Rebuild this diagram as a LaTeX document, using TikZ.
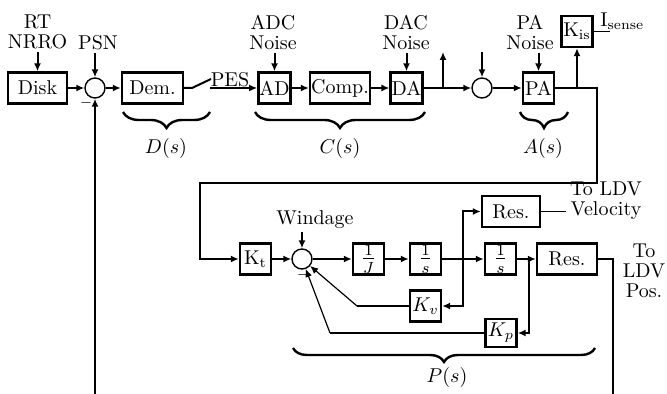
\documentclass[tikz,border=0pt]{standalone}
\usetikzlibrary{arrows.meta,decorations.pathreplacing}
\begin{document}
\begin{tikzpicture}[x=0.5pt,y=-0.5pt,
  every node/.style={font=\fontsize{10pt}{10pt}\selectfont},
  blk/.style={draw,line width=1.2pt,minimum width=15.5pt,minimum height=15.5pt,inner sep=0.5pt},
  fracblk/.style={blk,font=\fontsize{12pt}{12pt}\selectfont},
  sumj/.style={draw,circle,line width=0.7pt,minimum size=10pt,inner sep=0pt},
  lbl/.style={align=center,inner sep=1.5pt},
  minus/.style={font=\scriptsize,inner sep=0pt},
  sig/.style={line width=1pt,-{Latex[length=4pt,width=3.5pt]}},
  wire/.style={line width=1pt},
  thinsig/.style={line width=0.6pt,-{Latex[length=4pt,width=3.5pt]}},
  brc/.style={decorate,decoration={brace,amplitude=8pt},line width=1.2pt}]
\useasboundingbox (0,0) rectangle (667,394);
% Top row: disk, demodulator, controller, amplifier
\node[blk,minimum width=29.5pt] (disk) at (37.5,88) {Disk};
\node[sumj] (s1) at (95,88) {};
\node[minus] (m1) at (86,103) {$-$};
\node[blk,minimum width=30.5pt] (dem) at (152.5,88) {Dem.};
\node[blk] (AD) at (274.5,88) {AD};
\node[blk,minimum width=28pt] (comp) at (340,88) {Comp.};
\node[blk] (DA) at (406.5,88) {DA};
\node[sumj] (s2) at (482,88) {};
\node[blk] (PA) at (538.5,88) {PA};
\node[blk] (Kis) at (577,31.5) {K$_{\mathrm{is}}$};
% Disturbance and noise inputs
\node[lbl] (rt) at (37.5,32) {RT\\NRRO};
\node[lbl] (psn) at (98,42.5) {PSN};
\node[lbl] (adcn) at (273,32) {ADC\\Noise};
\node[lbl] (dacn) at (406,32) {DAC\\Noise};
\node[lbl] (pan) at (530,32) {PA\\Noise};
\draw[sig] (rt) -- (disk);
\draw[sig] (psn.south -| s1) -- (s1);
\draw[sig] (adcn.south -| AD) -- (AD);
\draw[sig] (dacn.south -| DA) -- (DA);
\draw[sig] (pan.south -| PA) -- (PA);
% Signal path
\draw[sig] (disk) -- (s1);
\draw[sig] (s1) -- (dem);
\coordinate (swa) at (192,88);
\coordinate (swb) at (211,79);
\coordinate (pesin) at (210,88);
\draw[wire] (dem) -- (swa) -- (swb);
\draw[sig] (pesin) -- (AD);
\node[inner sep=0pt] (pes) at (230,80) {PES};
\draw[sig] (AD) -- (comp);
\draw[sig] (comp) -- (DA);
\draw[sig] (DA) -- (s2);
\coordinate (datap) at (443,88);
\coordinate (daout) at (443,52);
\draw[sig] (datap) -- (daout);
\coordinate (s2in) at (482,52);
\draw[sig] (s2in) -- (s2);
\draw[sig] (s2) -- (PA);
\coordinate (patap) at (577,88);
\draw[sig] (patap) -- (Kis);
\coordinate (isend) at (610,31.5);
\draw[line width=0.7pt] (Kis) -- (isend);
\node[anchor=base west,inner sep=0pt] (isense) at (600,27) {I$_{\mathrm{sense}}$};
% Braces
\draw[brc] (210,112) -- (123,112);
\node (Ds) at (166,149) {$D(s)$};
\draw[brc] (425,112) -- (255,112);
\node (Cs) at (340,149) {$C(s)$};
\draw[brc] (568,112) -- (520,112);
\node (As) at (543,149) {$A(s)$};
% Loop down to the plant
\coordinate (ca) at (597,183);
\coordinate (cb) at (200,183);
\coordinate (pin) at (95,394);
\draw[sig] (pin) -- (s1);
% Plant
\node[blk] (Kt) at (255.5,259) {K$_{\mathrm{t}}$};
\draw[sig] (PA) -| (ca) -- (cb) |- (Kt);
\node[sumj] (s3) at (302,259) {};
\node[minus] (m3) at (303,275) {$-$};
\node[lbl] (wind) at (315,220) {Windage};
\draw[sig] (wind.south -| s3) -- (s3);
\node[fracblk] (invJ) at (368.5,259) {$\frac{1}{J}$};
\node[fracblk] (int1) at (425.5,259) {$\frac{1}{s}$};
\node[fracblk] (int2) at (500.5,259) {$\frac{1}{s}$};
\node[blk,minimum width=30pt] (resp) at (567,259) {Res.};
\node[blk,minimum width=29pt] (resv) at (511,211.5) {Res.};
\node[blk] (Kv) at (425.5,306) {$K_v$};
\node[blk,minimum height=14pt] (Kp) at (501,333) {$K_p$};
\draw[sig] (Kt) -- (s3);
\draw[sig] (s3) -- (invJ);
\draw[sig] (invJ) -- (int1);
\draw[sig] (int1) -- (int2);
\draw[sig] (int2) -- (resp);
% Velocity and position feedback
\coordinate (vtap) at (463,259);
\draw[sig] (vtap) |- (resv);
\draw[sig] (vtap) |- (Kv);
\coordinate (kvc) at (357,306);
\draw[wire] (Kv) -- (kvc);
\draw[thinsig] (kvc) -- (s3);
\coordinate (ptap) at (529,259);
\draw[sig,line width=0.8pt] (ptap) |- (Kp);
\coordinate (kpc) at (330,333);
\draw[line width=0.6pt] (Kp) -- (kpc);
\draw[thinsig] (kpc) -- (s3);
% Outputs
\coordinate (vout) at (566,211.5);
\draw[line width=0.7pt] (resv) -- (vout);
\node[lbl] (ldvv) at (606,201) {To LDV\\Velocity};
\coordinate (pout) at (613,394);
\draw[line width=1.3pt] (resp) -| (pout);
\node[lbl] (ldvp) at (644,271) {To\\LDV\\Pos.};
\draw[brc,decoration={amplitude=7pt}] (595,348) -- (293,348);
\node (Ps) at (447,377) {$P(s)$};
\end{tikzpicture}
\end{document}
